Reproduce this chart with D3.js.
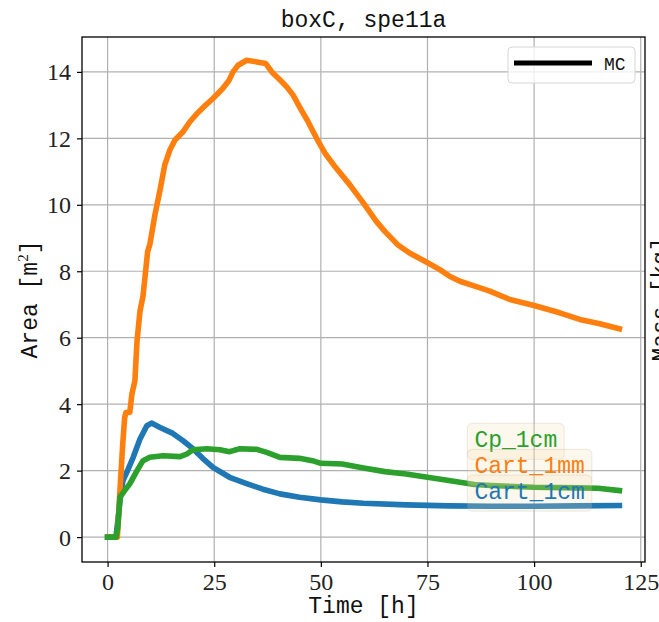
<!DOCTYPE html>
<html><head><meta charset="utf-8">
<script src="https://cdn.jsdelivr.net/npm/d3@7"></script>
<style>body{margin:0;background:#fff}svg{display:block}</style>
</head><body>
<svg id="c" width="659" height="622"></svg>
<script>
// ---- data ----
const xTicks = [0, 25, 50, 75, 100, 125];
const yTicks = [0, 2, 4, 6, 8, 10, 12, 14];
const cart1cmT = [0,1.3,2.0,2.5,3.0,3.6,4.5,6,7.6,9.2,10.3,12.3,15.3,17.7,20,22.3,24.7,28.6,32.6,36.4,40.4,45,50,55,60,70,80,90,100,110,120];
const cart1cmV = [0,0,0.05,0.6,1.2,1.7,1.95,2.4,2.95,3.35,3.43,3.3,3.12,2.9,2.66,2.37,2.1,1.8,1.61,1.44,1.3,1.2,1.12,1.06,1.02,0.97,0.94,0.93,0.93,0.94,0.95];
const cart1mmT = [0,2.3,2.9,3.5,4.0,4.3,5.2,5.7,6.4,6.9,7.6,8.3,9.4,9.9,11.1,12.3,13.4,14.6,15.8,17.7,19.3,21,23,24.7,27,28.5,29.4,30.6,32.6,35,37.1,38.5,40.5,42,43.5,45,47,49,51,53.3,56.8,60,63,65,68,70.8,74.4,77.9,80.2,82.6,86.1,89.6,94.3,100,106,110.7,115.4,120];
const cart1mmV = [0,0,1.4,2.7,3.6,3.75,3.75,4.3,4.7,5.9,6.8,7.25,8.6,8.8,9.7,10.45,11.2,11.65,11.95,12.2,12.5,12.75,13.0,13.2,13.5,13.75,14.0,14.2,14.35,14.3,14.25,14.0,13.75,13.55,13.3,12.95,12.5,12.0,11.55,11.15,10.6,10.05,9.5,9.2,8.8,8.55,8.3,8.05,7.85,7.7,7.55,7.4,7.15,6.97,6.75,6.55,6.42,6.27];
const cp1cmT = [0,2.0,2.4,2.9,4,5.2,6.9,8.3,9.9,13,17,18.6,20,23.3,26.3,28.6,31,35,37.3,40.4,45,48,50,55,60,65,70,75,80,86,90,100,110,115,120];
const cp1cmV = [0,0,0.3,1.2,1.4,1.6,2.0,2.3,2.4,2.45,2.42,2.5,2.63,2.66,2.63,2.57,2.66,2.64,2.55,2.4,2.37,2.3,2.22,2.2,2.08,1.97,1.9,1.8,1.7,1.58,1.55,1.5,1.48,1.47,1.4];
const seriesNames = ["Cart_1cm", "Cart_1mm", "Cp_1cm"];
const seriesColors = ["#1f77b4", "#ff7f0e", "#2ca02c"];
const labelOrder = ["Cp_1cm", "Cart_1mm", "Cart_1cm"];
const labelY = [2.70, 1.92, 1.14];
const labelX = 86;

const series = [
  {name: seriesNames[0], color: seriesColors[0], pts: cart1cmT.map((t,i)=>[t, cart1cmV[i]])},
  {name: seriesNames[1], color: seriesColors[1], pts: cart1mmT.map((t,i)=>[t, cart1mmV[i]])},
  {name: seriesNames[2], color: seriesColors[2], pts: cp1cmT.map((t,i)=>[t, cp1cmV[i]])}
];

// ---- layout ----
const L = 82, R = 645, T = 37, B = 562;
const mono = "'Liberation Mono', 'DejaVu Sans Mono', monospace";
const serif = "'Liberation Serif', 'DejaVu Serif', serif";
const svg = d3.select("#c");
const x = d3.scaleLinear().domain([-6, 126]).range([L, R]);
const y = d3.scaleLinear().domain([-0.75, 15.05]).range([B, T]);

// grid
const g = svg.append("g");
g.selectAll(".gx").data(xTicks).join("line")
  .attr("x1", d=>x(d)).attr("x2", d=>x(d)).attr("y1", T).attr("y2", B)
  .attr("stroke", "#b0b0b0").attr("stroke-width", 1.2);
g.selectAll(".gy").data(yTicks).join("line")
  .attr("x1", L).attr("x2", R).attr("y1", d=>y(d)).attr("y2", d=>y(d))
  .attr("stroke", "#b0b0b0").attr("stroke-width", 1.2);

// lines
const line = d3.line().x(d=>x(d[0])).y(d=>y(d[1])).curve(d3.curveLinear);
svg.append("g").selectAll("path").data(series).join("path")
  .attr("d", d=>line(d.pts)).attr("fill", "none")
  .attr("stroke", d=>d.color).attr("stroke-width", 5.6)
  .attr("stroke-linejoin", "round").attr("stroke-linecap", "square");

// axes
const xAxis = svg.append("g").attr("transform", `translate(0,${B})`)
  .call(d3.axisBottom(x).tickValues(xTicks).tickSize(5).tickPadding(6).tickFormat(d3.format("d")));
const yAxis = svg.append("g").attr("transform", `translate(${L},0)`)
  .call(d3.axisLeft(y).tickValues(yTicks).tickSize(5).tickPadding(6).tickFormat(d3.format("d")));
[xAxis, yAxis].forEach(a => {
  a.select(".domain").remove();
  a.selectAll(".tick line").attr("stroke", "#000").attr("stroke-width", 1.2);
  a.selectAll(".tick text").attr("font-family", serif).attr("font-size", 24).attr("fill", "#222");
});
yAxis.selectAll(".tick text").attr("dy", "0.33em");
xAxis.selectAll(".tick text").attr("dy", "0.72em");

// frame
svg.append("rect").attr("x", L).attr("y", T).attr("width", R-L).attr("height", B-T)
  .attr("fill", "none").attr("stroke", "#000").attr("stroke-width", 1.3);

// titles
svg.append("text").attr("x", (L+R)/2).attr("y", 27).attr("text-anchor", "middle")
  .attr("font-family", mono).attr("font-size", 23).attr("fill", "#111").text("boxC, spe11a");
svg.append("text").attr("x", (L+R)/2).attr("y", 613).attr("text-anchor", "middle")
  .attr("font-family", mono).attr("font-size", 23).attr("fill", "#111").text("Time [h]");
const yl = svg.append("text").attr("transform", `translate(37,${(T+B)/2}) rotate(-90)`)
  .attr("text-anchor", "middle").attr("font-family", mono).attr("font-size", 23).attr("fill", "#111");
yl.append("tspan").text("Area [m");
yl.append("tspan").attr("font-family", serif).attr("font-size", 15).attr("dy", -9).text("2");
yl.append("tspan").attr("dy", 9).text("]");
svg.append("text").attr("transform", `translate(668,${(T+B)/2}) rotate(-90)`)
  .attr("text-anchor", "middle").attr("font-family", mono).attr("font-size", 23).attr("fill", "#111").text("Mass [kg]");

// MC legend
const lg = svg.append("g");
lg.append("rect").attr("x", 508).attr("y", 47).attr("width", 127).attr("height", 36).attr("rx", 4)
  .attr("fill", "#fff").attr("fill-opacity", 0.8).attr("stroke", "#d6d6d6");
lg.append("line").attr("x1", 514).attr("x2", 592).attr("y1", 63).attr("y2", 63)
  .attr("stroke", "#000").attr("stroke-width", 5);
lg.append("text").attr("x", 604).attr("y", 70).attr("font-family", mono).attr("font-size", 18)
  .attr("fill", "#111").text("MC");

// series labels with translucent boxes
const colorOf = Object.fromEntries(seriesNames.map((n,i)=>[n, seriesColors[i]]));
labelOrder.forEach((name, i) => {
  const grp = svg.append("g");
  const txt = grp.append("text").attr("x", x(labelX)).attr("y", y(labelY[i]))
    .attr("font-family", mono).attr("font-size", 23).attr("fill", colorOf[name]).text(name);
  const bb = txt.node().getBBox();
  grp.insert("rect", "text").attr("x", bb.x - 7).attr("y", bb.y - 5)
    .attr("width", bb.width + 14).attr("height", bb.height + 10).attr("rx", 5)
    .attr("fill", "#f5deb3").attr("fill-opacity", 0.22)
    .attr("stroke", "#a09070").attr("stroke-opacity", 0.15).attr("stroke-width", 1.2);
});
</script>
</body></html>
